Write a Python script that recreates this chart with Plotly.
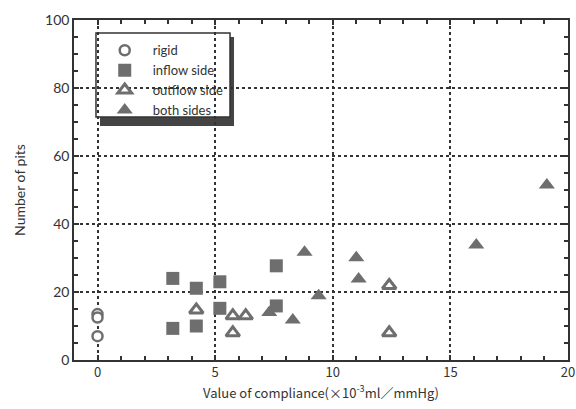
import plotly.graph_objects as go

rigid_x = [0, 0, 0]
rigid_y = [13.5, 12.5, 7.0]

inflow_x = [3.2, 3.2, 4.2, 4.2, 5.2, 5.2, 7.6, 7.6]
inflow_y = [24.0, 9.3, 21.1, 10.0, 23.0, 15.2, 27.7, 15.9]

outflow_x = [4.2, 5.75, 5.75, 6.3, 12.4, 12.4]
outflow_y = [14.7, 13.0, 8.0, 13.0, 21.9, 8.0]

both_x = [7.3, 8.3, 8.8, 9.4, 11.0, 11.1, 16.1, 19.1]
both_y = [14.0, 11.8, 31.7, 18.9, 30.1, 23.8, 33.8, 51.5]

x_ticks = [0, 5, 10, 15, 20]
y_ticks = [0, 20, 40, 60, 80, 100]

gray = "#6e6e6e"
ink = "#333333"
fig = go.Figure()
fig.add_trace(go.Scatter(x=rigid_x, y=rigid_y, mode="markers", name="rigid",
                         marker=dict(symbol="circle", size=10, color="white",
                                     line=dict(color=gray, width=2.5))))
fig.add_trace(go.Scatter(x=inflow_x, y=inflow_y, mode="markers", name="inflow side",
                         marker=dict(symbol="square", size=13, color=gray,
                                     line=dict(width=0))))
fig.add_trace(go.Scatter(x=outflow_x, y=outflow_y, mode="markers", name="outflow side",
                         marker=dict(symbol="triangle-up", size=12, color="white",
                                     line=dict(color=gray, width=3))))
fig.add_trace(go.Scatter(x=both_x, y=both_y, mode="markers", name="both sides",
                         marker=dict(symbol="triangle-up", size=14, color=gray,
                                     line=dict(width=0))))

axis_common = dict(showline=True, linecolor=ink, linewidth=1.5, mirror="ticks",
                   ticks="inside", ticklen=5, tickcolor=ink, tickwidth=1.5,
                   showgrid=True, gridcolor=ink, gridwidth=1.5, griddash="dot",
                   zeroline=False, automargin=False)

fig.update_xaxes(range=[-1, 20], tickvals=x_ticks, ticktext=[str(v) for v in x_ticks],
                 minor=dict(dtick=1, tick0=0, ticks="inside", ticklen=4, tickcolor=ink, showgrid=False),
                 title=dict(text="Value of compliance(×10<sup>-3</sup>ml／mmHg)", standoff=2,
                            font=dict(size=13, color=ink, family="Noto Sans CJK JP")),
                 tickfont=dict(size=13, color=ink, family="Noto Sans CJK JP"),
                 **axis_common)
fig.update_yaxes(range=[0, 100], tickvals=y_ticks, ticktext=[str(v) for v in y_ticks],
                 minor=dict(dtick=5, tick0=0, ticks="inside", ticklen=4, tickcolor=ink, showgrid=False),
                 title=dict(text="Number of pits", standoff=16,
                            font=dict(size=14, color=ink, family="Lato")),
                 tickfont=dict(size=14, color=ink, family="Lato"),
                 **axis_common)

# legend shadow and frame
fig.add_shape(type="rect", xref="paper", yref="paper",
              x0=0.0526, x1=0.3239, y0=0.6882, y1=0.9500,
              fillcolor="#444444", line=dict(width=0), layer="between")
fig.add_shape(type="rect", xref="paper", yref="paper",
              x0=0.0445, x1=0.3158, y0=0.7147, y1=0.9618,
              fillcolor="white", line=dict(color=ink, width=1.5), layer="between")

fig.update_layout(
    width=576, height=409,
    margin=dict(l=74, r=8, t=20, b=49),
    plot_bgcolor="white", paper_bgcolor="white",
    font=dict(family="Lato", color=ink),
    showlegend=True,
    legend=dict(x=0.046, y=0.955, xanchor="left", yanchor="top",
                bgcolor="rgba(0,0,0,0)", borderwidth=0,
                font=dict(size=13, family="Lato", color=ink),
                itemwidth=46, tracegroupgap=4),
)

fig.write_html("out.html", config={"displayModeBar": False},
               post_script="document.body.style.margin='0';document.body.style.overflow='hidden';")
